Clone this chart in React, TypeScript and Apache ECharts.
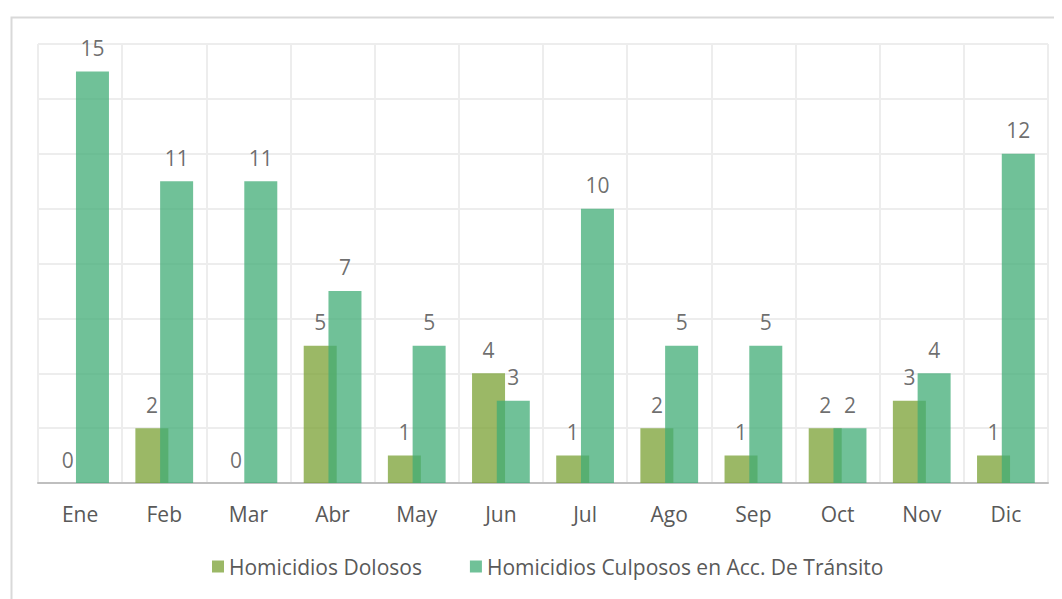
import React, { useEffect, useRef } from "react";
import * as echarts from "echarts";

const categories = ["Ene", "Feb", "Mar", "Abr", "May", "Jun", "Jul", "Ago", "Sep", "Oct", "Nov", "Dic"];
const dolosos = [0, 2, 0, 5, 1, 4, 1, 2, 1, 2, 3, 1];
const culposos = [15, 11, 11, 7, 5, 3, 10, 5, 5, 2, 4, 12];
const seriesNames = ["Homicidios Dolosos", "Homicidios Culposos en Acc. De Tránsito"];

const FONT = "'Open Sans', sans-serif";

export default function App() {
  const ref = useRef<HTMLDivElement>(null);
  useEffect(() => {
    if (!ref.current) return;
    const chart = echarts.init(ref.current, undefined, { renderer: "svg" });
    const label = {
      show: true,
      position: "top" as const,
      distance: 13,
      fontFamily: FONT,
      fontSize: 21,
      color: "#404040",
    };
    chart.setOption({
      animation: false,
      backgroundColor: "#ffffff",
      textStyle: { fontFamily: FONT },
      graphic: [
        {
          type: "rect",
          left: 1,
          top: 7,
          shape: { x: 0, y: 0, width: 1100, height: 700 },
          style: { fill: "none", stroke: "#d9d9d9", lineWidth: 2 },
          silent: true,
          z: -10,
        },
      ],
      grid: { left: 30, top: 36, right: 6, bottom: 116, containLabel: false },
      legend: {
        left: 199,
        top: 543,
        itemWidth: 12,
        itemHeight: 12,
        itemGap: 48,
        icon: "rect",
        textStyle: { fontFamily: FONT, fontSize: 21, color: "#595959" },
        data: seriesNames,
      },
      xAxis: {
        type: "category",
        data: categories,
        axisLine: { lineStyle: { color: "#bfbfbf", width: 2 } },
        axisTick: { show: false },
        axisLabel: { fontFamily: FONT, fontSize: 21, color: "#595959", margin: 20 },
        splitLine: { show: true, lineStyle: { color: "#ededed", width: 2 } },
      },
      yAxis: {
        type: "value",
        min: 0,
        max: 16,
        interval: 2,
        axisLabel: { show: false },
        axisLine: { show: false },
        axisTick: { show: false },
        splitLine: { show: true, lineStyle: { color: "#ededed", width: 2 } },
      },
      series: [
        {
          name: seriesNames[0],
          type: "bar",
          data: dolosos,
          barWidth: 33,
          barGap: "-25%",
          itemStyle: { color: "rgb(122,160,51)", opacity: 0.75 },
          label,
        },
        {
          name: seriesNames[1],
          type: "bar",
          data: culposos,
          barWidth: 33,
          barGap: "-25%",
          itemStyle: { color: "rgb(64,172,118)", opacity: 0.75 },
          label,
        },
      ],
    });
    return () => chart.dispose();
  }, []);
  return <div ref={ref} style={{ width: 1046, height: 591 }} />;
}
